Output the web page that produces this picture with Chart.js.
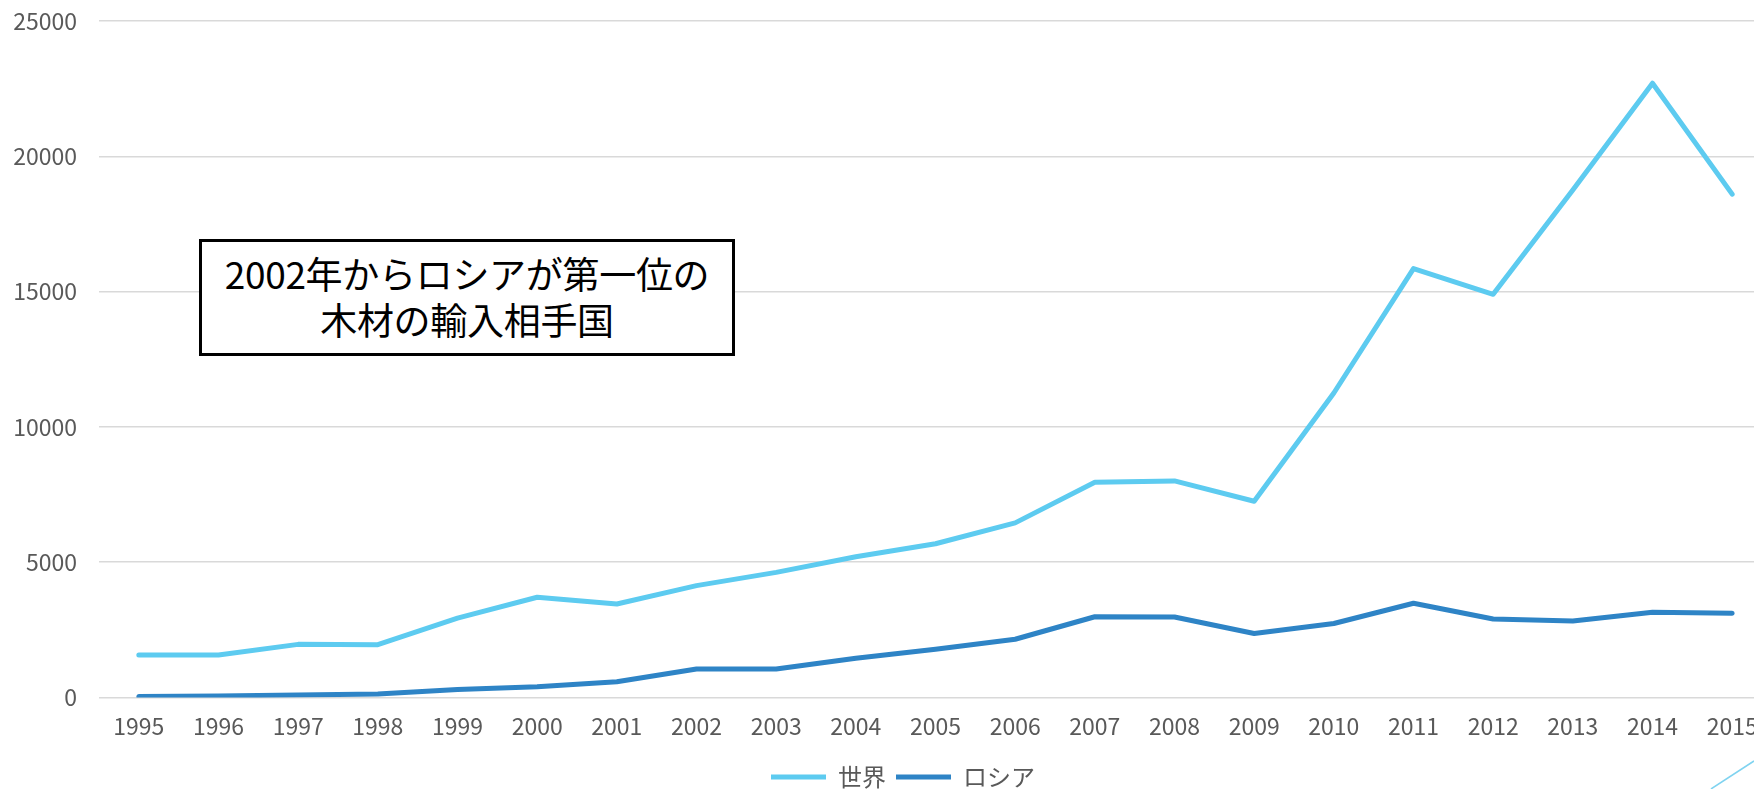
<!DOCTYPE html>
<html>
<head>
<meta charset="utf-8">
<script src="https://cdn.jsdelivr.net/npm/chart.js@4.4.0/dist/chart.umd.min.js"></script>
<style>
  html, body { margin: 0; padding: 0; background: #fff; overflow: hidden; width: 1754px; height: 789px; }
  #wrap { position: absolute; left: 0; top: 0; width: 1782px; height: 789px; }
  #note {
    position: absolute; left: 199px; top: 239px; width: 536px; height: 117px;
    box-sizing: border-box; border: 3px solid #000; background: #fff;
    font-family: "Noto Sans CJK JP", sans-serif; font-size: 37px; line-height: 46px;
    color: #000; text-align: center; padding-top: 8px; letter-spacing: -0.3px;
  }
  #deco { position: absolute; left: 0; top: 0; }
</style>
</head>
<body>
<div id="wrap"><canvas id="lineChart" width="1782" height="789"></canvas></div>
<div id="note">2002年からロシアが第一位の<br>木材の輸入相手国</div>
<svg id="deco" width="1754" height="789"><line x1="1711" y1="789" x2="1754" y2="761" stroke="#7fd3f0" stroke-width="1.5"/></svg>
<script>
var years = ["1995","1996","1997","1998","1999","2000","2001","2002","2003","2004","2005",
             "2006","2007","2008","2009","2010","2011","2012","2013","2014","2015"];
// 世界
var world = [1570, 1570, 1960, 1950, 2930, 3700, 3450, 4130, 4620, 5200, 5680,
             6450, 7950, 8000, 7250, 11250, 15850, 14900, 18750, 22700, 18600];
// ロシア
var russia = [30, 50, 90, 130, 290, 390, 580, 1050, 1050, 1450, 1780,
              2150, 2980, 2970, 2360, 2730, 3480, 2900, 2820, 3150, 3110];
var yTicks = [0, 5000, 10000, 15000, 20000, 25000];

var chartColors = {
  world: '#5DCBF0',
  russia: '#2E84C6',
  grid: '#d9d9d9',
  text: '#595959'
};

function line_chart(data, id){
  var ctx = document.getElementById(id).getContext("2d");
  var options = {
    responsive: false,
    animation: false,
    layout: { padding: { left: 34, right: 10, top: 21, bottom: -10 } },
    elements: { point: { radius: 0 } },
    plugins: {
      tooltip: { enabled: false },
      legend: {
        position: 'bottom',
        labels: {
          usePointStyle: true,
          pointStyle: 'line',
          pointStyleWidth: 55,
          boxHeight: 5,
          padding: 10,
          color: chartColors.text,
          font: { family: '"Noto Sans CJK JP", sans-serif', size: 24 }
        }
      }
    },
    scales: {
      x: {
        offset: true,
        grid: { display: false, drawTicks: false },
        border: { display: false },
        ticks: {
          color: chartColors.text,
          padding: 15,
          maxRotation: 0,
          autoSkip: false,
          font: { family: '"Noto Sans CJK JP", sans-serif', size: 23 }
        }
      },
      y: {
        min: 0,
        max: 25000,
        afterFit: function(scale){
          scale.width = 65;
          scale.paddingTop = 0;
          scale.paddingBottom = 0;
          // labels stick out past the axis box, don't clip them
          scale._computeLabelArea = function(){ return null; };
        },
        afterBuildTicks: function(scale){ scale.ticks = yTicks.map(function(v){ return { value: v }; }); },
        grid: { color: chartColors.grid, lineWidth: 1.5, drawTicks: false },
        border: { display: false },
        ticks: {
          color: chartColors.text,
          padding: 22,
          font: { family: '"Noto Sans CJK JP", sans-serif', size: 23 },
          callback: function(v){ return String(v); }
        }
      }
    }
  };
  new Chart(ctx, { type: 'line', data: data, options: options });
}

var chart_data = {
  labels: years,
  datasets: [
    {
      label: "世界",
      data: world,
      borderColor: chartColors.world,
      backgroundColor: chartColors.world,
      borderWidth: 5,
      borderCapStyle: 'round',
      borderJoinStyle: 'round',
      fill: false,
      tension: 0
    },{
      label: "ロシア",
      data: russia,
      borderColor: chartColors.russia,
      backgroundColor: chartColors.russia,
      borderWidth: 5,
      borderCapStyle: 'round',
      borderJoinStyle: 'round',
      fill: false,
      tension: 0
    }
  ]
};

line_chart(chart_data, "lineChart");
</script>
</body>
</html>
